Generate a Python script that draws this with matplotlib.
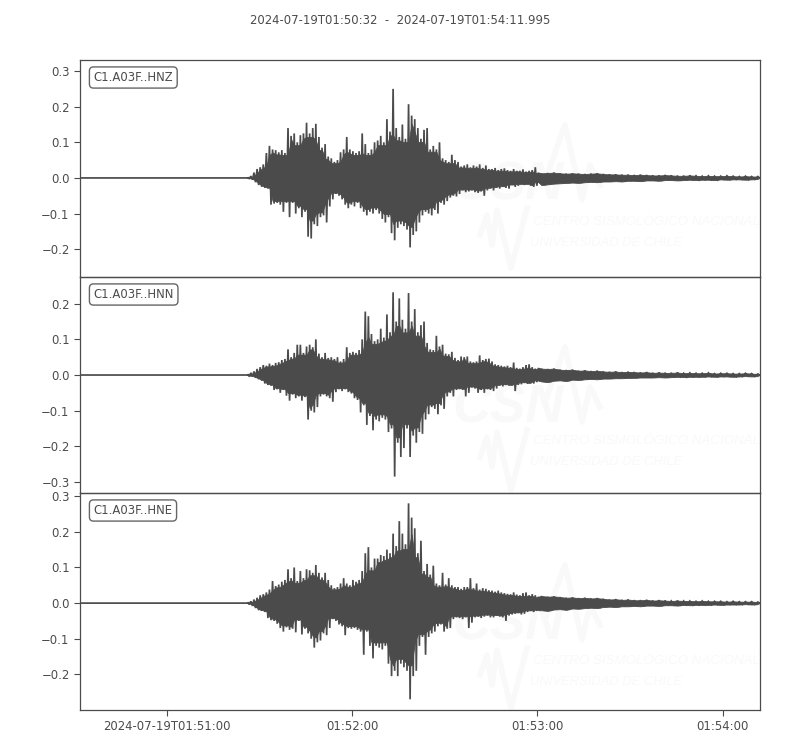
import numpy as np
import matplotlib
matplotlib.use("Agg")
import matplotlib.pyplot as plt

title = "2024-07-19T01:50:32  -  2024-07-19T01:54:11.995"
channels = ["C1.A03F..HNZ", "C1.A03F..HNN", "C1.A03F..HNE"]
tick_seconds = [28, 88, 148, 208]
tick_labels = ["2024-07-19T01:51:00", "01:52:00", "01:53:00", "01:54:00"]
yticks_z = [-0.2, -0.1, 0.0, 0.1, 0.2, 0.3]
yticks_n = [-0.3, -0.2, -0.1, 0.0, 0.1, 0.2]
yticks_e = [-0.2, -0.1, 0.0, 0.1, 0.2, 0.3]
ylims = [(-0.278, 0.331), (-0.331, 0.275), (-0.30, 0.309)]

onset_s = 54.3
end_s = 220.0

# envelope peaks, one pair per second after onset (milli-units)
z_up = [1,5,15,25,30,38,70,90,80,78,72,78,70,140,118,125,100,120,125,155,125,140,152,115,85,95,60,55,45,50,72,80,115,80,75,70,75,125,95,70,80,100,105,118,100,165,130,250,140,115,150,110,207,175,165,140,110,135,140,80,90,80,100,55,50,45,65,50,45,32,35,38,30,35,32,38,28,35,25,25,28,22,25,27,22,20,25,20,20,24,18,20,22,30,15]
z_lo = [-1,-5,-12,-20,-25,-28,-30,-75,-72,-70,-75,-95,-70,-110,-70,-100,-85,-110,-95,-165,-170,-130,-135,-110,-105,-125,-80,-60,-45,-50,-60,-75,-85,-75,-80,-70,-85,-95,-105,-95,-100,-90,-100,-115,-125,-110,-155,-175,-140,-130,-135,-145,-195,-160,-150,-125,-105,-95,-100,-105,-90,-100,-70,-75,-65,-55,-50,-52,-45,-35,-40,-38,-35,-40,-42,-38,-50,-35,-30,-35,-28,-30,-25,-28,-30,-20,-25,-22,-18,-20,-18,-22,-25,-22,-12]
n_up = [2,6,10,17,22,28,26,32,28,34,36,42,45,72,50,62,85,85,62,80,85,78,100,60,50,62,48,50,45,50,38,45,78,62,65,62,70,100,178,165,115,95,100,130,105,170,120,232,150,215,155,130,230,150,185,120,140,150,90,72,70,110,80,85,60,58,65,48,42,52,50,52,38,36,38,55,42,45,46,38,30,28,26,24,26,22,35,20,18,22,28,30,22,18,20]
n_lo = [-2,-4,-8,-12,-16,-24,-28,-30,-42,-40,-50,-42,-58,-72,-55,-65,-60,-72,-62,-125,-100,-105,-90,-60,-55,-60,-65,-75,-48,-40,-45,-40,-48,-52,-65,-70,-105,-85,-140,-115,-155,-125,-130,-120,-125,-160,-150,-285,-190,-230,-205,-150,-230,-170,-190,-160,-165,-125,-110,-90,-95,-110,-85,-95,-60,-50,-60,-42,-40,-42,-60,-50,-35,-38,-50,-42,-50,-40,-42,-45,-38,-30,-32,-28,-30,-30,-45,-28,-26,-22,-25,-24,-24,-20,-16]
e_up = [2,5,10,15,22,25,30,38,62,48,52,60,65,95,70,100,62,90,70,95,92,85,107,85,72,85,65,50,42,45,55,70,55,50,65,60,65,90,140,157,100,125,125,135,132,150,140,195,160,230,195,165,280,240,210,140,175,90,110,80,105,55,50,85,52,70,50,45,45,40,45,45,70,42,55,38,42,40,36,35,32,35,30,28,26,25,30,24,22,28,30,22,25,22,18]
e_lo = [-2,-8,-14,-20,-22,-25,-42,-48,-50,-58,-70,-80,-68,-75,-72,-82,-50,-88,-72,-85,-100,-125,-110,-105,-85,-90,-70,-45,-50,-60,-65,-90,-70,-72,-70,-75,-80,-145,-80,-120,-155,-120,-125,-130,-120,-170,-205,-190,-205,-170,-180,-190,-270,-205,-190,-120,-95,-145,-95,-85,-80,-65,-60,-80,-72,-70,-45,-40,-42,-45,-40,-70,-55,-40,-38,-42,-38,-35,-40,-40,-36,-38,-40,-50,-35,-32,-30,-28,-32,-30,-25,-22,-25,-22,-20]

# coda, one pair per two seconds
z_tail_up = [13,14,15,13,12,13,12,11,12,13,11,10,10,9,9,8,9,8,7,7,8,7,6,6,7,6,5,6,5,5,6,5,4,5,4,4]
z_tail_lo = [-20,-18,-16,-15,-14,-13,-14,-12,-11,-12,-10,-10,-9,-10,-8,-8,-9,-7,-7,-8,-6,-6,-7,-6,-5,-6,-5,-5,-6,-4,-5,-4,-4,-5,-4,-3]
n_tail_up = [18,17,18,15,14,15,12,13,11,12,10,9,10,8,9,8,7,8,6,7,6,6,7,5,6,5,5,6,4,5,5,4,4,5,4,3]
n_tail_lo = [-18,-20,-16,-15,-17,-13,-14,-12,-11,-12,-10,-10,-9,-9,-8,-8,-7,-7,-7,-6,-7,-6,-5,-6,-5,-5,-5,-4,-5,-4,-4,-5,-4,-3,-4,-3]
e_tail_up = [20,18,19,17,15,16,14,15,13,14,12,10,11,9,10,8,8,9,7,8,7,6,7,6,6,5,6,5,5,5,4,5,4,4,4,3]
e_tail_lo = [-20,-22,-18,-17,-19,-15,-16,-14,-13,-14,-11,-10,-11,-9,-9,-8,-9,-7,-7,-8,-6,-6,-7,-5,-6,-5,-5,-5,-4,-5,-4,-4,-4,-3,-4,-3]

traces = [(z_up, z_lo, z_tail_up, z_tail_lo), (n_up, n_lo, n_tail_up, n_tail_lo), (e_up, e_lo, e_tail_up, e_tail_lo)]
yticks = [yticks_z, yticks_n, yticks_e]

INK = "#4b4b4b"
FAINT = "#f9f9f9"
W, H = 800, 750
FS = 8.4
WM = ["Liberation Sans", "DejaVu Sans"]
fig = plt.figure(figsize=(W / 100, H / 100), dpi=100)
edges = [(60, 277), (277, 493), (493, 710)]
CSN_y = [186, 408, 625]
text_y = [222, 441, 661]
logo_dy = [0, 222, 440]


def zigzag(up, lo, start, step):
    n = min(len(up), len(lo))
    t, v = [], []
    for i in range(n):
        t += [start + i * step, start + (i + 0.5) * step]
        v += [up[i] / 1000, lo[i] / 1000]
    return t, v


def core(vals):
    # solid body of the trace: the smaller neighbouring peak, the teeth are left to the zigzag
    a = np.array(vals, float) / 1000
    out = a.copy()
    for i in range(len(a)):
        w = a[max(0, i - 1):i + 2]
        out[i] = w[np.argmin(np.abs(w))]
    return out * 0.92


for i, (top, bot) in enumerate(edges):
    ax = fig.add_axes([80 / W, 1 - bot / H, 680 / W, (bot - top) / H])
    ax.patch.set_alpha(0)
    ax.set_xlim(0, end_s)
    ax.set_ylim(*ylims[i])
    up, lo, tu, tl = traces[i]
    t1, v1 = zigzag(up, lo, onset_s, 1.0)
    t2, v2 = zigzag(tu, tl, t1[-1] + 0.5, 2.0)
    t = [0.0, onset_s] + t1 + t2 + [end_s]
    v = [0.0, 0.0] + v1 + v2 + [0.0]
    ax.plot(t, v, color=INK, lw=1.25, zorder=3, solid_joinstyle="miter")
    tc = onset_s + np.arange(len(up))
    ax.fill_between(tc, core(lo), core(up), color=INK, lw=0.6, zorder=3)
    tt = tc[-1] + 1 + 2.0 * np.arange(len(tu))
    ax.fill_between(np.r_[tc[-1], tt], np.r_[lo[-1], tl] / 1000, np.r_[up[-1], tu] / 1000,
                    color=INK, lw=0.6, zorder=3)
    ax.set_yticks(yticks[i])
    ax.set_yticklabels([("\u2212%.1f" % abs(y)) if y < 0 else "%.1f" % y for y in yticks[i]])
    ax.tick_params(axis="y", labelsize=FS, colors=INK, length=4, width=0.8)
    if i == 2:
        ax.set_xticks(tick_seconds)
        ax.set_xticklabels(tick_labels)
        ax.tick_params(axis="x", labelsize=FS, colors=INK, length=4, width=0.8)
    else:
        ax.set_xticks([])
    for s in ax.spines.values():
        s.set_color(INK)
        s.set_linewidth(0.9)
    ax.text(13.5 / 680, 1 - 17.5 / (bot - top), channels[i], transform=ax.transAxes,
            fontsize=FS, color=INK, va="center", ha="left", zorder=5,
            bbox=dict(boxstyle="round,pad=0.35", fc="white", ec="#666666", lw=1.0))

    # faint watermark, behind the axes
    fig.text(508 / W, 1 - CSN_y[i] / H, "CSN", fontsize=38, fontstyle="italic", fontweight="bold",
             family=WM, color=FAINT, ha="center", va="center", zorder=-1)
    fig.text(533 / W, 1 - text_y[i] / H, "CENTRO SISMOLÓGICO NACIONAL", fontsize=9.6, fontstyle="italic",
             family=WM, color=FAINT, ha="left", va="center", zorder=-1)
    fig.text(530 / W, 1 - (text_y[i] + 21) / H, "UNIVERSIDAD DE CHILE", fontsize=9.4, fontstyle="italic",
             family=WM, color=FAINT, ha="left", va="center", zorder=-1)
    dy = logo_dy[i]
    fig.add_artist(plt.Line2D(
        [x / W for x in (480, 487, 492, 497, 511, 527)],
        [1 - (y + dy) / H for y in (235, 215, 245, 210, 268, 208)],
        color=FAINT, lw=4, zorder=-1))
    fig.add_artist(plt.Line2D(
        [x / W for x in (545, 565, 582, 590, 600)],
        [1 - (y + dy) / H for y in (180, 125, 200, 165, 185)],
        color=FAINT, lw=4, zorder=-1))

fig.text(400 / W, 1 - 21 / H, title, fontsize=FS, color=INK, ha="center", va="center")
fig.savefig("out.png", dpi=100)
